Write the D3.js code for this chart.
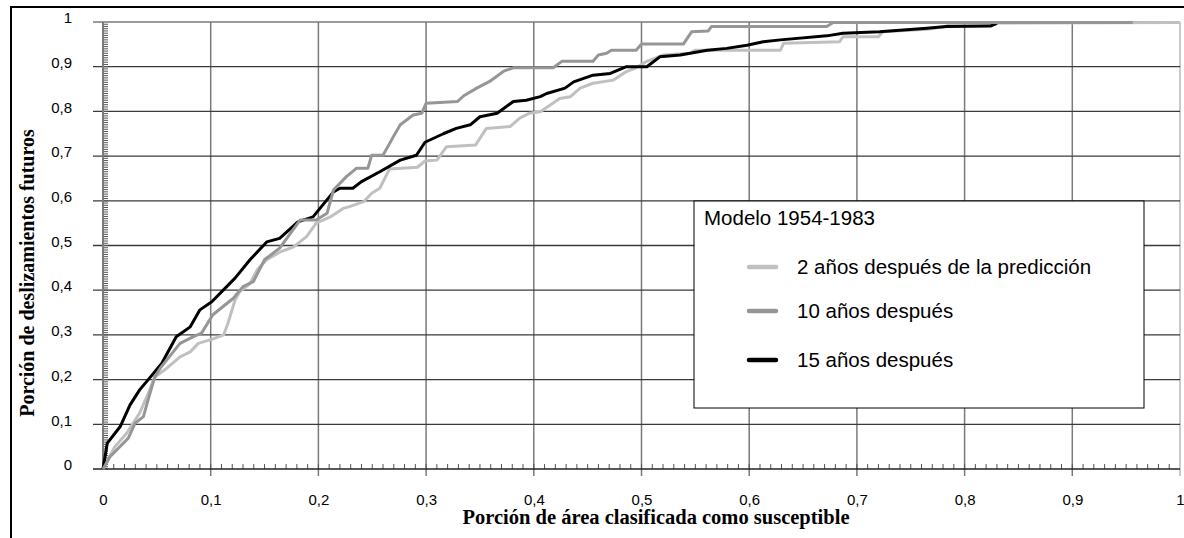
<!DOCTYPE html>
<html>
<head>
<meta charset="utf-8">
<script src="https://cdn.jsdelivr.net/npm/d3@7"></script>
<style>
  body { margin: 0; background: #fff; }
  svg { display: block; }
</style>
</head>
<body>
<div id="chartContainer"></div>
<script>
// Ejes
const xTicks = [0, 0.1, 0.2, 0.3, 0.4, 0.5, 0.6, 0.7, 0.8, 0.9, 1];
const xTickLabels = ["0", "0,1", "0,2", "0,3", "0,4", "0,5", "0,6", "0,7", "0,8", "0,9", "1"];
const yTicks = [0, 0.1, 0.2, 0.3, 0.4, 0.5, 0.6, 0.7, 0.8, 0.9, 1];
const yTickLabels = ["0", "0,1", "0,2", "0,3", "0,4", "0,5", "0,6", "0,7", "0,8", "0,9", "1"];

// Series: [porción de área, porción de deslizamientos]
const serie2anos = [
  [0, 0], [0.011, 0.05], [0.022, 0.08], [0.034, 0.125], [0.042, 0.169], [0.048, 0.206],
  [0.059, 0.225], [0.0715, 0.251], [0.081, 0.262], [0.0885, 0.281], [0.101, 0.29], [0.112, 0.3],
  [0.116, 0.326], [0.1226, 0.378], [0.127, 0.397], [0.1365, 0.415], [0.143, 0.445], [0.152, 0.468],
  [0.164, 0.485], [0.177, 0.497], [0.189, 0.52], [0.198, 0.55], [0.211, 0.564], [0.223, 0.583],
  [0.229, 0.587], [0.242, 0.598], [0.2495, 0.617], [0.257, 0.628], [0.266, 0.671], [0.292, 0.675],
  [0.299, 0.689], [0.31, 0.691], [0.319, 0.721], [0.346, 0.725], [0.356, 0.762], [0.378, 0.766],
  [0.387, 0.785], [0.396, 0.796], [0.406, 0.799], [0.415, 0.814], [0.424, 0.829], [0.434, 0.833],
  [0.443, 0.852], [0.455, 0.863], [0.474, 0.87], [0.486, 0.889], [0.495, 0.8975], [0.505, 0.912],
  [0.52, 0.926], [0.545, 0.93], [0.55, 0.937], [0.629, 0.937], [0.632, 0.9525], [0.684, 0.956],
  [0.687, 0.967], [0.72, 0.967], [0.724, 0.978], [0.765, 0.984], [0.783, 0.99], [0.786, 0.997],
  [1, 0.999]
];
const serie10anos = [
  [0, 0], [0.0065, 0.0275], [0.0235, 0.069], [0.0297, 0.102], [0.0375, 0.117], [0.0436, 0.169],
  [0.048, 0.205], [0.053, 0.225], [0.0715, 0.281], [0.084, 0.296], [0.0915, 0.304], [0.102, 0.345],
  [0.121, 0.382], [0.13, 0.408], [0.1395, 0.419], [0.15, 0.468], [0.164, 0.494], [0.183, 0.557],
  [0.198, 0.557], [0.208, 0.572], [0.214, 0.624], [0.226, 0.654], [0.2355, 0.673], [0.246, 0.673],
  [0.2495, 0.702], [0.26, 0.702], [0.2695, 0.743], [0.276, 0.77], [0.288, 0.792], [0.296, 0.796],
  [0.3, 0.818], [0.329, 0.822], [0.335, 0.835], [0.347, 0.852], [0.359, 0.867], [0.372, 0.89],
  [0.381, 0.8975], [0.418, 0.8975], [0.426, 0.912], [0.455, 0.912], [0.46, 0.926], [0.4675, 0.93],
  [0.472, 0.937], [0.495, 0.937], [0.5, 0.951], [0.539, 0.951], [0.5465, 0.978], [0.562, 0.98],
  [0.565, 0.99], [0.672, 0.99], [0.678, 0.999], [0.956, 0.999]
];
const serie15anos = [
  [0, 0], [0.004, 0.058], [0.016, 0.095], [0.025, 0.143], [0.034, 0.177], [0.042, 0.2],
  [0.0545, 0.236], [0.068, 0.296], [0.081, 0.318], [0.09, 0.356], [0.101, 0.374], [0.1226, 0.427],
  [0.1365, 0.468], [0.152, 0.508], [0.164, 0.516], [0.181, 0.553], [0.195, 0.564], [0.214, 0.62],
  [0.22, 0.628], [0.232, 0.628], [0.24, 0.643], [0.257, 0.665], [0.276, 0.691], [0.291, 0.702],
  [0.299, 0.731], [0.316, 0.75], [0.328, 0.762], [0.341, 0.77], [0.35, 0.788], [0.366, 0.796],
  [0.381, 0.822], [0.393, 0.825], [0.406, 0.833], [0.412, 0.84], [0.429, 0.852], [0.437, 0.866],
  [0.455, 0.881], [0.471, 0.885], [0.486, 0.9], [0.505, 0.9], [0.517, 0.922], [0.536, 0.926],
  [0.561, 0.937], [0.579, 0.941], [0.598, 0.948], [0.613, 0.956], [0.629, 0.96], [0.672, 0.969],
  [0.687, 0.975], [0.721, 0.978], [0.765, 0.986], [0.783, 0.99], [0.824, 0.991], [0.83, 0.997]
];

const seriesNames = ["2 años después de la predicción", "10 años después", "15 años después"];
const seriesColors = ["#c0c0c0", "#969696", "#000000"];
const legendTitle = "Modelo 1954-1983";

function drawChart() {
    const width = 1184;
    const height = 538;
    const left = 103, right = 1180, top = 22, bottom = 469;

    d3.select("#chartContainer").selectAll("*").remove();

    const svg = d3.select("#chartContainer")
        .append("svg")
        .attr("width", width)
        .attr("height", height);

    const x = d3.scaleLinear().domain([0, 1]).range([left, right]);
    const y = d3.scaleLinear().domain([0, 1]).range([bottom, top]);

    // Marco exterior
    svg.append("path")
        .attr("d", `M11,${height} L11,7 L${width},7`)
        .attr("fill", "none")
        .attr("stroke", "#000")
        .attr("stroke-width", 2);

    // Rejilla vertical
    svg.append("g")
        .selectAll("line")
        .data(xTicks.slice(1))
        .enter().append("line")
        .attr("x1", d => x(d)).attr("x2", d => x(d))
        .attr("y1", top).attr("y2", bottom + 7)
        .attr("stroke", d => d === 1 ? "#b8b8b8" : "#7a7a7a")
        .attr("stroke-width", 1.5);

    // Rejilla horizontal
    svg.append("g")
        .selectAll("line")
        .data(yTicks.slice(1))
        .enter().append("line")
        .attr("x1", left - 10).attr("x2", right)
        .attr("y1", d => y(d)).attr("y2", d => y(d))
        .attr("stroke", d => d === 1 ? "#7a7a7a" : "#3a3a3a")
        .attr("stroke-width", 1.3);

    // Marcas menores eje Y
    svg.append("g")
        .selectAll("line")
        .data(d3.range(0, 200).map(i => i * 0.005))
        .enter().append("line")
        .attr("x1", left).attr("x2", left + 5)
        .attr("y1", d => y(d)).attr("y2", d => y(d))
        .attr("stroke", "#555")
        .attr("stroke-width", 1);

    // Marcas menores eje X
    svg.append("g")
        .selectAll("line")
        .data(d3.range(1, 100).map(i => i * 0.01))
        .enter().append("line")
        .attr("x1", d => x(d)).attr("x2", d => x(d))
        .attr("y1", bottom).attr("y2", bottom - 5)
        .attr("stroke", "#555")
        .attr("stroke-width", 1);

    // Líneas de ejes
    svg.append("line")
        .attr("x1", left).attr("x2", left)
        .attr("y1", top).attr("y2", bottom)
        .attr("stroke", "#7a7a7a").attr("stroke-width", 2);
    svg.append("line")
        .attr("x1", left - 10).attr("x2", right)
        .attr("y1", bottom).attr("y2", bottom)
        .attr("stroke", "#222").attr("stroke-width", 1.5);

    // Etiquetas eje Y
    const yAxis = svg.append("g")
        .attr("transform", `translate(${left},0)`)
        .call(d3.axisLeft(y)
            .tickValues(yTicks)
            .tickSize(0)
            .tickPadding(31)
            .tickFormat((d, i) => yTickLabels[i]));
    yAxis.select(".domain").remove();
    yAxis.selectAll("text")
        .attr("dy", "0.05em")
        .style("font-family", "Arial, 'Liberation Sans', sans-serif")
        .style("font-size", "15px")
        .style("fill", "#000");

    // Etiquetas eje X
    const xAxis = svg.append("g")
        .attr("transform", `translate(0,${bottom})`)
        .call(d3.axisBottom(x)
            .tickValues(xTicks)
            .tickSize(0)
            .tickPadding(25)
            .tickFormat((d, i) => xTickLabels[i]));
    xAxis.select(".domain").remove();
    xAxis.selectAll("text")
        .style("font-family", "Arial, 'Liberation Sans', sans-serif")
        .style("font-size", "15px")
        .style("fill", "#000");

    // Curvas
    const line = d3.line()
        .x(d => x(d[0]))
        .y(d => y(d[1]));

    const series = [serie2anos, serie15anos, serie10anos];
    const colors = [seriesColors[0], seriesColors[2], seriesColors[1]];
    series.forEach((s, i) => {
        svg.append("path")
            .datum(s)
            .attr("fill", "none")
            .attr("stroke", colors[i])
            .attr("stroke-width", 3)
            .attr("stroke-linejoin", "round")
            .attr("d", line);
    });

    // Leyenda
    const legend = svg.append("g").attr("transform", "translate(694,201)");
    legend.append("rect")
        .attr("width", 450)
        .attr("height", 207)
        .attr("fill", "#fff")
        .attr("stroke", "#000")
        .attr("stroke-width", 1);
    legend.append("text")
        .attr("x", 10)
        .attr("y", 24)
        .style("font-family", "Arial, 'Liberation Sans', sans-serif")
        .style("font-size", "20.5px")
        .style("fill", "#000")
        .text(legendTitle);

    const rowY = [66, 110, 159];
    seriesNames.forEach((name, i) => {
        legend.append("line")
            .attr("x1", 55).attr("x2", 82)
            .attr("y1", rowY[i]).attr("y2", rowY[i])
            .attr("stroke", seriesColors[i])
            .attr("stroke-width", 4.5)
            .attr("stroke-linecap", "round");
        legend.append("text")
            .attr("x", 103)
            .attr("y", rowY[i])
            .attr("dy", "0.36em")
            .style("font-family", "Arial, 'Liberation Sans', sans-serif")
            .style("font-size", "20.5px")
            .style("fill", "#000")
            .text(name);
    });

    // Títulos de ejes
    svg.append("text")
        .attr("x", 656)
        .attr("y", 524)
        .attr("text-anchor", "middle")
        .style("font-family", "'Times New Roman', 'Liberation Serif', serif")
        .style("font-weight", "700")
        .style("font-size", "20.5px")
        .style("fill", "#000")
        .text("Porción de área clasificada como susceptible");

    svg.append("text")
        .attr("transform", "rotate(-90)")
        .attr("x", -273)
        .attr("y", 34)
        .attr("text-anchor", "middle")
        .style("font-family", "'Times New Roman', 'Liberation Serif', serif")
        .style("font-weight", "700")
        .style("font-size", "20px")
        .style("fill", "#000")
        .text("Porción de deslizamientos futuros");
}

drawChart();
</script>
</body>
</html>
